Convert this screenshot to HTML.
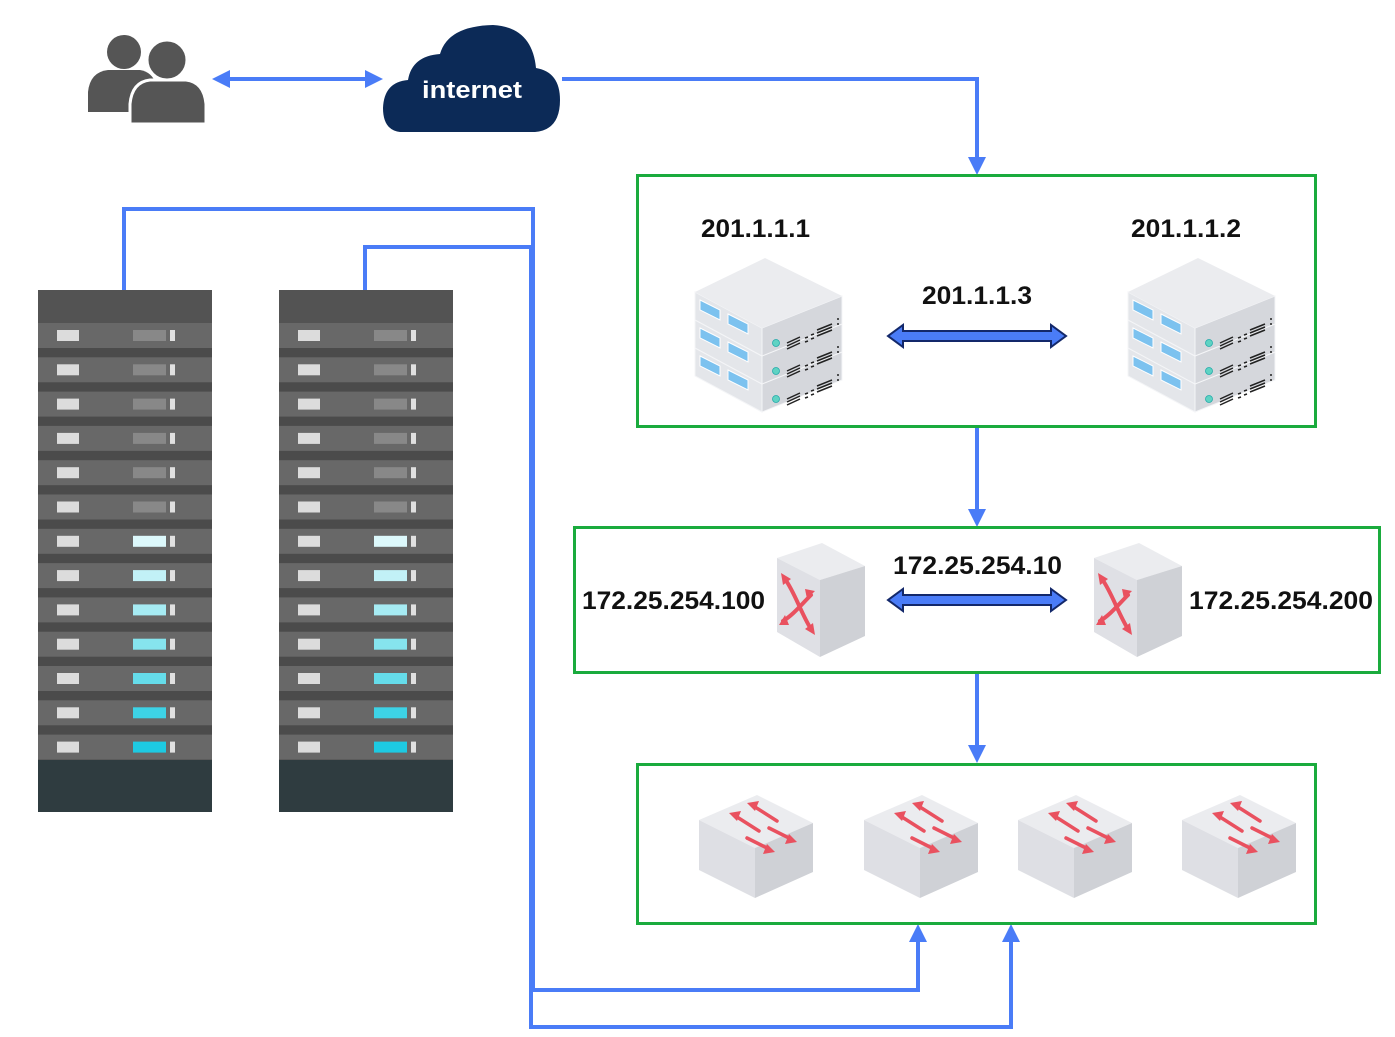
<!DOCTYPE html>
<html><head><meta charset="utf-8"><style>
html,body{margin:0;padding:0;background:#fff;}
svg{display:block;}
text{font-family:"Liberation Sans",sans-serif;font-weight:bold;fill:#111;}
</style></head><body>
<svg width="1395" height="1037" viewBox="0 0 1395 1037" xmlns="http://www.w3.org/2000/svg">
<defs>
<g id="slab">
<polygon points="0,34 67,70 67,98 0,62" fill="#e4e6ea" stroke="#f4f5f7" stroke-width="1"/>
<polygon points="67,70 147,38 147,66 67,98" fill="#d5d7dc" stroke="#f4f5f7" stroke-width="1"/>
<polygon points="5,42 25,52 25,62 5,52" fill="#7cc2ef" stroke="#fff" stroke-width="1"/>
<polygon points="33,56 53,66 53,76 33,66" fill="#7cc2ef" stroke="#fff" stroke-width="1"/>
<circle cx="81" cy="85" r="3.5" fill="#5fd3c3" stroke="#2aa" stroke-width="0.8"/>
<path d="M92,85 L105,79 M92,88 L105,82 M92,91 L105,85 M122,72 L137,66 M122,75 L137,69 M122,78 L137,72" stroke="#222" stroke-width="1.5"/>
<path d="M110,80 l3,-1 M110,84 l3,-1 M116,77 l3,-1 M116,81 l3,-1 M143,60 l0,2 M143,65 l0,2" stroke="#222" stroke-width="1.5"/>
</g>
<g id="server">
<use href="#slab" y="56"/>
<use href="#slab" y="28"/>
<use href="#slab" y="0"/>
<polygon points="0,34 70,0 147,38 67,70" fill="#ebecef"/>
</g>
<g id="router">
<polygon points="0,15 45,0 88,23 43,37" fill="#ebecef"/>
<polygon points="0,15 43,37 43,114 0,89" fill="#dfe0e5"/>
<polygon points="43,37 88,23 88,93 43,114" fill="#cfd1d6"/>
<g stroke="#e9515f" stroke-width="4" fill="none" stroke-linecap="round">
<path d="M8,36 C18,50 24,70 34,86"/><path d="M6,78 C16,72 24,62 34,52"/></g>
<g fill="#e9515f"><polygon points="4,30 14,36 6,42"/><polygon points="38,92 28,86 36,80"/><polygon points="2,82 8,72 12,82"/><polygon points="38,48 30,56 28,46"/></g>
</g>
<g id="switch">
<polygon points="0,25 58,0 114,28 56,53" fill="#ebecef"/>
<polygon points="0,25 56,53 56,103 0,75" fill="#dedfe4"/>
<polygon points="56,53 114,28 114,77 56,103" fill="#cfd1d6"/>
<g stroke="#e9515f" stroke-width="3.5" stroke-linecap="round">
<path d="M38,22 L60,36"/><path d="M56,12 L78,26"/><path d="M48,43 L70,54"/><path d="M70,33 L92,44"/></g>
<g fill="#e9515f"><polygon points="30,18 42,16 38,26"/><polygon points="48,8 60,6 56,16"/><polygon points="76,57 64,59 68,49"/><polygon points="98,47 86,49 90,39"/></g>
</g>
<g id="rack">
<rect x="0" y="0" width="174" height="522" fill="#2f3c40"/>
<rect x="0" y="0" width="174" height="470" fill="#4b4b4b"/>
<rect x="0" y="0" width="174" height="33" fill="#535353"/>
</g>
<g id="row">
<rect x="0" y="0" width="174" height="25" fill="#686868"/>
<rect x="19" y="7" width="22" height="11" fill="#dcdcdc"/>
<rect x="132" y="7" width="5" height="11" fill="#e0e0e0"/>
</g>
</defs>

<g fill="#555">
<circle cx="124" cy="52" r="17"/>
<path d="M88,112 L88,92 Q90,72 108,70 L140,70 Q152,72 156,84 L156,112 Z"/>
<circle cx="167" cy="60" r="20" stroke="#fff" stroke-width="3"/>
<path d="M130,124 L130,104 Q132,82 150,80 L186,80 Q204,82 206,104 L206,124 Z" stroke="#fff" stroke-width="3"/>
</g>
<path d="M400,132 Q383,130 383,108 Q384,82 408,80 Q412,56 440,54 Q448,26 493,25 Q532,27 536,68 Q560,72 560,100 Q560,130 535,132 Z" fill="#0c2a57"/>
<text x="422" y="98" textLength="100" lengthAdjust="spacingAndGlyphs" font-size="24" style="fill:#fff">internet</text>

<g stroke="#4a7cf7" stroke-width="4" fill="none">
<line x1="222" y1="79" x2="372" y2="79"/>
<polyline points="562,79 977,79 977,160"/>
<line x1="977" y1="427" x2="977" y2="512"/>
<line x1="977" y1="673" x2="977" y2="748"/>
<polyline points="124,290 124,209 533,209 533,990 918,990 918,938"/>
<polyline points="365,290 365,247 531,247 531,1027 1011,1027 1011,938"/>
</g>
<g fill="#4a7cf7">
<polygon points="212,79 230,70 230,88"/><polygon points="383,79 365,70 365,88"/>
<polygon points="977,175 968,157 986,157"/>
<polygon points="977,527 968,509 986,509"/>
<polygon points="977,763 968,745 986,745"/>
<polygon points="918,924 909,942 927,942"/>
<polygon points="1011,924 1002,942 1020,942"/>
</g>

<g fill="none" stroke="#1aab3d" stroke-width="3">
<rect x="637.5" y="175.5" width="678" height="251"/>
<rect x="574.5" y="527.5" width="805" height="145"/>
<rect x="637.5" y="764.5" width="678" height="159"/>
</g>

<text x="701" y="237" textLength="109" lengthAdjust="spacingAndGlyphs" font-size="25">201.1.1.1</text>
<text x="1131" y="237" textLength="110" lengthAdjust="spacingAndGlyphs" font-size="25">201.1.1.2</text>
<text x="922" y="304" textLength="110" lengthAdjust="spacingAndGlyphs" font-size="25">201.1.1.3</text>
<text x="893" y="574" textLength="169" lengthAdjust="spacingAndGlyphs" font-size="25">172.25.254.10</text>
<text x="582" y="609" textLength="183" lengthAdjust="spacingAndGlyphs" font-size="25">172.25.254.100</text>
<text x="1189" y="609" textLength="184" lengthAdjust="spacingAndGlyphs" font-size="25">172.25.254.200</text>

<use href="#server" x="695" y="258"/>
<use href="#server" x="1128" y="258"/>

<g fill="#4a7cf7" stroke="#13286a" stroke-width="2">
<polygon points="888,336 903,325 903,331 1051,331 1051,325 1066,336 1051,347 1051,341 903,341 903,347"/>
<polygon points="888,600 903,589 903,595 1051,595 1051,589 1066,600 1051,611 1051,605 903,605 903,611"/>
</g>

<use href="#router" x="777" y="543"/>
<use href="#router" x="1094" y="543"/>

<use href="#switch" x="699" y="795"/>
<use href="#switch" x="864" y="795"/>
<use href="#switch" x="1018" y="795"/>
<use href="#switch" x="1182" y="795"/>

<g transform="translate(38,290)">
<use href="#rack"/>
<g id="rows">
<use href="#row" y="33"/><use href="#row" y="67.3"/><use href="#row" y="101.6"/><use href="#row" y="135.9"/><use href="#row" y="170.2"/><use href="#row" y="204.5"/><use href="#row" y="238.8"/><use href="#row" y="273.1"/><use href="#row" y="307.4"/><use href="#row" y="341.7"/><use href="#row" y="376"/><use href="#row" y="410.3"/><use href="#row" y="444.6"/>
</g>
<g id="leds">
<rect x="95" y="40" width="33" height="11" fill="#888"/><rect x="95" y="74.3" width="33" height="11" fill="#888"/><rect x="95" y="108.6" width="33" height="11" fill="#888"/><rect x="95" y="142.9" width="33" height="11" fill="#888"/><rect x="95" y="177.2" width="33" height="11" fill="#888"/><rect x="95" y="211.5" width="33" height="11" fill="#888"/>
<rect x="95" y="245.8" width="33" height="11" fill="#dcf8fb"/><rect x="95" y="280.1" width="33" height="11" fill="#c2f1f7"/><rect x="95" y="314.4" width="33" height="11" fill="#a6ebf3"/><rect x="95" y="348.7" width="33" height="11" fill="#86e4ee"/><rect x="95" y="383" width="33" height="11" fill="#65dcea"/><rect x="95" y="417.3" width="33" height="11" fill="#3dd3e6"/><rect x="95" y="451.6" width="33" height="11" fill="#1dcae2"/>
</g>
</g>
<g transform="translate(279,290)">
<use href="#rack"/><use href="#rows"/><use href="#leds"/>
</g>
</svg>
</body></html>
